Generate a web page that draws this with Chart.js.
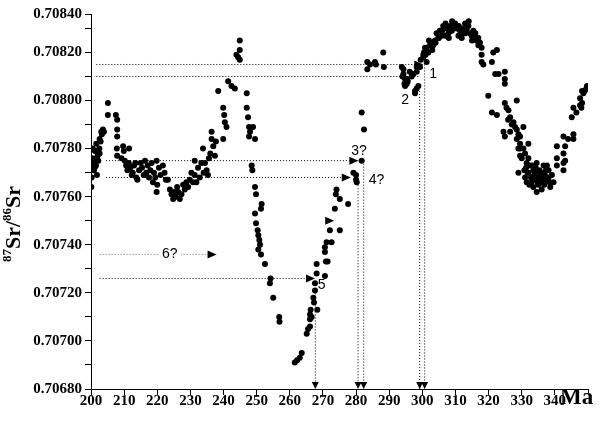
<!DOCTYPE html>
<html>
<head>
<meta charset="utf-8">
<script src="https://cdn.jsdelivr.net/npm/chart.js@4"></script>
<style>
  body { margin: 0; background: #fff; }
  canvas { display: block; }
</style>
</head>
<body>
<canvas id="chart" width="600" height="432"></canvas>
<script>
// axis ranges
const xMin = 200, xMax = 350;
const yMin = 0.7068, yMax = 0.70836; // top of the axis is labelled 0.70840 in the source

// samples as [age Ma, 87Sr/86Sr]
const triassic = [
  [200.1, 0.70764], [200.2, 0.70768], [200.3, 0.70773], [200.4, 0.70776], [200.5, 0.70780], [200.9, 0.70771],
  [201.0, 0.70775], [201.1, 0.70772], [201.2, 0.70779], [201.5, 0.70773], [201.6, 0.70782], [201.6, 0.70779],
  [201.8, 0.70769], [202.0, 0.70777], [202.2, 0.70775], [202.5, 0.70780], [202.6, 0.70784], [202.6, 0.70778],
  [202.9, 0.70783], [203.1, 0.70787], [203.3, 0.70786], [203.6, 0.70788], [203.9, 0.70787],
  [205.1, 0.70799], [205.1, 0.70794], [207.5, 0.70794], [207.9, 0.70792], [207.9, 0.70788], [207.9, 0.70785],
  [207.8, 0.70780], [207.9, 0.70777], [209.2, 0.70776], [209.7, 0.70781], [209.9, 0.70779], [211.5, 0.70780],
  [210.2, 0.70775], [210.6, 0.70773], [211.0, 0.70771], [211.4, 0.70774], [211.9, 0.70772], [212.3, 0.70769],
  [212.6, 0.70770], [213.0, 0.70773], [213.4, 0.70774], [213.7, 0.70768], [214.0, 0.70767], [214.5, 0.70771],
  [215.0, 0.70774], [215.4, 0.70772], [215.9, 0.70769], [216.3, 0.70775], [216.7, 0.70770], [217.1, 0.70773],
  [217.5, 0.70768], [217.9, 0.70771], [218.3, 0.70774], [218.7, 0.70766], [219.0, 0.70770], [219.4, 0.70768],
  [219.8, 0.70775], [219.8, 0.70762], [220.0, 0.70765], [220.5, 0.70772], [221.0, 0.70769], [221.7, 0.70773],
  [222.2, 0.70770], [222.6, 0.70767], [223.2, 0.70767], [223.8, 0.70763], [224.3, 0.70761], [224.8, 0.70759],
  [225.2, 0.70762], [225.6, 0.70760], [226.0, 0.70764], [226.3, 0.70762], [226.8, 0.70759], [227.3, 0.70761],
  [227.8, 0.70765], [228.3, 0.70763], [228.8, 0.70766], [229.3, 0.70764], [229.8, 0.70767], [230.3, 0.70770],
  [230.8, 0.70766], [231.3, 0.70769], [231.3, 0.70775], [231.8, 0.70766], [232.3, 0.70772], [232.8, 0.70768],
  [233.3, 0.70774], [233.8, 0.70780], [234.0, 0.70770], [234.4, 0.70774], [234.9, 0.70771], [235.3, 0.70769],
  [235.6, 0.70776], [236.0, 0.70778], [236.4, 0.70787], [236.4, 0.70784], [236.9, 0.70781], [237.4, 0.70777],
  [237.7, 0.70783]
];

const guadalupian = [
  [238.4, 0.70804], [239.9, 0.70797], [240.2, 0.70794], [240.4, 0.70791], [240.9, 0.70789], [239.9, 0.70784],
  [241.4, 0.70808], [242.4, 0.70806], [243.4, 0.70805], [243.9, 0.70819], [244.4, 0.70818], [244.9, 0.70821],
  [244.9, 0.70825], [244.9, 0.70817],
  [247.0, 0.70803], [247.0, 0.70797], [247.4, 0.70793], [247.7, 0.70789], [248.0, 0.70787], [248.9, 0.70789],
  [247.7, 0.70785], [249.5, 0.70784], [248.5, 0.70773], [248.7, 0.70771], [249.5, 0.70764], [249.8, 0.70761],
  [251.5, 0.70757], [251.3, 0.70755], [249.5, 0.70753], [249.8, 0.70749], [250.3, 0.70746], [250.5, 0.70744],
  [251.0, 0.70740], [250.5, 0.70738], [250.8, 0.70742], [251.3, 0.70736], [252.5, 0.70732], [254.2, 0.70726],
  [254.0, 0.70724], [255.0, 0.70718], [256.8, 0.70710], [256.9, 0.70708]
];

const permian = [
  [261.5, 0.70691], [262.2, 0.70692], [263.0, 0.70693], [263.6, 0.70695], [265.1, 0.70703], [265.5, 0.70705],
  [266.1, 0.70706], [266.1, 0.70709], [266.1, 0.70711], [266.3, 0.70713], [266.6, 0.70710], [268.3, 0.70713],
  [267.1, 0.70718], [267.6, 0.70721], [267.3, 0.70716], [267.6, 0.70724], [268.1, 0.70728], [268.1, 0.70732],
  [270.6, 0.70727], [270.9, 0.70733], [271.4, 0.70733], [270.6, 0.70737], [270.6, 0.70739], [271.1, 0.70741],
  [272.6, 0.70741], [272.1, 0.70746], [275.1, 0.70746], [273.6, 0.70755], [274.1, 0.70763], [273.9, 0.70761],
  [275.1, 0.70759], [277.6, 0.70757], [279.2, 0.70770], [280.0, 0.70767], [280.2, 0.70766], [280.0, 0.70769],
  [281.7, 0.70775], [281.7, 0.70795], [282.4, 0.70788],
  [283.4, 0.70816], [284.2, 0.70815], [283.4, 0.70813], [285.7, 0.70816], [286.0, 0.70815], [288.2, 0.70820],
  [288.4, 0.70814]
];

const carboniferous = [
  [293.8, 0.70814], [294.0, 0.70810], [294.3, 0.70811], [294.3, 0.70813], [294.6, 0.70807], [294.8, 0.70809],
  [294.8, 0.70806], [295.3, 0.70807], [295.3, 0.70809], [295.6, 0.70808], [296.2, 0.70812], [296.8, 0.70810],
  [297.3, 0.70811], [297.8, 0.70804], [297.8, 0.70803], [298.3, 0.70812], [298.3, 0.70814], [298.3, 0.70805],
  [298.8, 0.70806], [299.3, 0.70814], [299.5, 0.70817],
  [300.3, 0.70818], [300.3, 0.70819], [300.5, 0.70820], [300.8, 0.70822], [301.3, 0.70816], [301.3, 0.70822],
  [301.8, 0.70820], [302.3, 0.70823], [302.8, 0.70824], [303.3, 0.70823], [303.8, 0.70825], [304.3, 0.70828],
  [304.8, 0.70826], [305.3, 0.70829], [305.8, 0.70827], [306.3, 0.70831], [306.9, 0.70827], [307.4, 0.70830],
  [307.9, 0.70828], [308.4, 0.70831], [308.9, 0.70829], [309.4, 0.70831], [309.9, 0.70832], [310.4, 0.70830],
  [310.9, 0.70827], [311.4, 0.70829], [311.9, 0.70826], [312.4, 0.70828], [312.9, 0.70832], [313.4, 0.70830],
  [313.9, 0.70831], [314.4, 0.70828], [314.9, 0.70827], [315.4, 0.70829], [315.9, 0.70826], [316.4, 0.70825],
  [316.9, 0.70823], [317.4, 0.70824], [317.9, 0.70822], [317.9, 0.70819], [317.9, 0.70816], [318.4, 0.70815],
  [301.0, 0.70819], [302.0, 0.70825], [303.0, 0.70821], [304.0, 0.70824], [305.0, 0.70826], [306.0, 0.70829],
  [307.0, 0.70832], [308.0, 0.70826], [309.0, 0.70833], [311.0, 0.70831], [312.0, 0.70830], [313.0, 0.70828],
  [314.0, 0.70833], [315.0, 0.70825], [316.0, 0.70828], [316.9, 0.70826]
];

const mississippian = [
  [319.9, 0.70802], [321.0, 0.70795], [321.0, 0.70816], [321.4, 0.70820], [322.0, 0.70811], [322.5, 0.70794],
  [322.5, 0.70821], [323.0, 0.70811], [324.5, 0.70787], [324.9, 0.70812], [324.9, 0.70809], [324.9, 0.70807],
  [324.9, 0.70799], [324.9, 0.70785], [325.4, 0.70797], [325.9, 0.70792], [326.0, 0.70796], [326.5, 0.70793],
  [326.5, 0.70787], [327.0, 0.70790], [327.5, 0.70791], [328.0, 0.70789], [328.5, 0.70800], [328.5, 0.70788],
  [328.5, 0.70784], [329.0, 0.70786], [329.0, 0.70780], [329.0, 0.70770], [329.5, 0.70785], [329.5, 0.70782],
  [329.5, 0.70780], [329.5, 0.70777], [330.0, 0.70776], [330.5, 0.70789],
  [331.3, 0.70772], [331.5, 0.70774], [331.5, 0.70766], [332.0, 0.70782], [332.0, 0.70770], [332.5, 0.70773],
  [332.8, 0.70768], [333.0, 0.70768], [333.0, 0.70766], [333.5, 0.70771], [333.5, 0.70764], [334.0, 0.70770],
  [334.0, 0.70767], [334.5, 0.70774], [334.5, 0.70762], [335.0, 0.70768], [335.0, 0.70765], [335.5, 0.70766],
  [335.5, 0.70770], [336.0, 0.70763], [336.6, 0.70773], [336.6, 0.70767], [337.0, 0.70769], [337.6, 0.70773],
  [338.1, 0.70771], [338.1, 0.70768], [338.6, 0.70764], [339.1, 0.70769], [339.6, 0.70766],
  [330.8, 0.70771], [331.0, 0.70768], [331.8, 0.70770], [332.3, 0.70765], [333.8, 0.70769], [334.2, 0.70772],
  [334.8, 0.70766], [335.3, 0.70771], [335.8, 0.70768], [336.3, 0.70770], [336.8, 0.70765], [337.3, 0.70771],
  [337.8, 0.70767], [338.4, 0.70766], [333.2, 0.70773], [332.0, 0.70776], [331.0, 0.70778], [330.5, 0.70780],
  [340.6, 0.70781], [340.6, 0.70776], [340.6, 0.70773], [342.6, 0.70785], [343.1, 0.70781], [342.6, 0.70778],
  [343.1, 0.70775], [342.6, 0.70774], [342.6, 0.70771], [344.0, 0.70784], [345.6, 0.70784], [345.6, 0.70786],
  [345.1, 0.70793], [345.6, 0.70797], [346.5, 0.70795], [347.6, 0.70798], [348.0, 0.70797], [348.2, 0.70799],
  [347.6, 0.70801], [348.6, 0.70803], [349.0, 0.70804], [349.7, 0.70806], [348.2, 0.70804], [349.5, 0.70805]
];

// dotted guides: horizontal levels and the age where each one stops
const levelRatio = [0.70815, 0.70810, 0.70775, 0.70768, 0.70726, 0.70736];
const levelFrom = [201.6, 201.6, 204.5, 204.5, 202.6, 202.6];
const levelTo = [300.3, 299.2, 280.7, 278.4, 267.6, 237.9];

// vertical drops to the age axis
const dropAge = [300.7, 299.2, 282.3, 280.6, 267.7];
const dropTop = [0.70815, 0.70804, 0.70775, 0.70766, 0.70721];

// right-pointing arrow heads
const tipAge = [300.3, 280.7, 278.4, 267.6, 237.9, 273.4];
const tipRatio = [0.70815, 0.70775, 0.70768, 0.70726, 0.70736, 0.70750];

// numbered marks
const markText = ['1', '2', '3?', '4?', '5', '6?'];
const markAge = [303.3, 294.8, 280.9, 286.2, 269.6, 223.8];
const markRatio = [0.70811, 0.70800, 0.70779, 0.70767, 0.70723, 0.70736];

const points = [...triassic, ...guadalupian, ...permian, ...carboniferous, ...mississippian]
  .map(p => ({ x: p[0], y: p[1] }));

const datasets = [{
  data: points,
  pointRadius: 3,
  pointBackgroundColor: '#000',
  pointBorderWidth: 0,
  showLine: false
}];

levelRatio.forEach((v, i) => {
  datasets.push({
    type: 'line',
    data: [{ x: levelFrom[i], y: v }, { x: levelTo[i], y: v }],
    borderColor: i === 5 ? '#666' : '#000',
    borderWidth: 1,
    borderDash: [1, 2],
    pointRadius: 0,
    showLine: true
  });
});

dropAge.forEach((a, i) => {
  datasets.push({
    type: 'line',
    data: [{ x: a, y: dropTop[i] }, { x: a, y: yMin }],
    borderColor: '#000',
    borderWidth: 1,
    borderDash: [1, 2],
    pointRadius: 0,
    showLine: true
  });
});

const serif = '"Liberation Serif", "Times New Roman", serif';

const guides = {
  id: 'guides',
  afterDatasetsDraw(chart) {
    const { ctx, scales: { x, y } } = chart;
    ctx.save();
    ctx.fillStyle = '#000';
    tipAge.forEach((a, i) => {
      const px = x.getPixelForValue(a), py = y.getPixelForValue(tipRatio[i]);
      ctx.beginPath();
      ctx.moveTo(px, py);
      ctx.lineTo(px - 9, py - 4);
      ctx.lineTo(px - 9, py + 4);
      ctx.closePath();
      ctx.fill();
    });
    dropAge.forEach(a => {
      const px = x.getPixelForValue(a), py = y.getPixelForValue(yMin);
      ctx.beginPath();
      ctx.moveTo(px, py);
      ctx.lineTo(px - 3.5, py - 7);
      ctx.lineTo(px + 3.5, py - 7);
      ctx.closePath();
      ctx.fill();
    });
    ctx.font = '14px "Liberation Sans", Arial, sans-serif';
    ctx.textAlign = 'center';
    ctx.textBaseline = 'middle';
    markText.forEach((t, i) => {
      const px = x.getPixelForValue(markAge[i]), py = y.getPixelForValue(markRatio[i]);
      if (t === '6?') {
        ctx.fillStyle = '#fff';
        ctx.fillRect(px - 11, py - 7, 22, 14);
      }
      ctx.fillStyle = '#000';
      ctx.fillText(t, px, py);
    });
    ctx.restore();
  },
  afterDraw(chart) {
    const { ctx, chartArea, scales: { x } } = chart;
    ctx.save();
    ctx.fillStyle = '#000';
    // x unit
    ctx.font = 'bold 23px ' + serif;
    ctx.textAlign = 'left';
    ctx.textBaseline = 'alphabetic';
    ctx.fillText('Ma', x.getPixelForValue(xMax) - 28, chartArea.bottom + 15);
    // y title with superscript mass numbers
    ctx.translate(20, chartArea.top + 248);
    ctx.rotate(-Math.PI / 2);
    const parts = [['87', 13, -9], ['Sr/', 22, 0], ['86', 13, -9], ['Sr', 22, 0]];
    let cx = 0;
    parts.forEach(([t, size, dy]) => {
      ctx.font = 'bold ' + size + 'px ' + serif;
      ctx.fillText(t, cx, dy);
      cx += ctx.measureText(t).width;
    });
    ctx.restore();
  }
};

new Chart(document.getElementById('chart'), {
  type: 'scatter',
  data: { datasets },
  options: {
    responsive: false,
    animation: false,
    devicePixelRatio: 1,
    layout: { padding: { top: 14, right: 12, left: 0, bottom: 0 } },
    plugins: { legend: { display: false }, tooltip: { enabled: false } },
    scales: {
      x: {
        type: 'linear',
        min: xMin,
        max: xMax,
        afterFit: s => { s.height = 43; },
        border: { color: '#000', width: 1 },
        grid: { drawOnChartArea: false, color: '#000', tickLength: 6 },
        ticks: {
          stepSize: 10,
          autoSkip: false,
          maxRotation: 0,
          padding: -3,
          color: '#000',
          font: { family: serif, size: 15, weight: 'bold' },
          callback: v => (v === xMax ? '' : v)
        }
      },
      y: {
        min: yMin,
        max: yMax,
        afterFit: s => { s.width = 91; },
        afterBuildTicks: s => { s.ticks.push({ value: s.max }); },
        border: { color: '#000', width: 1 },
        grid: { drawOnChartArea: false, color: '#000', tickLength: 6 },
        ticks: {
          stepSize: 0.0001,
          includeBounds: false,
          padding: 3,
          color: '#000',
          font: { family: serif, size: 15, weight: 'bold' },
          callback: v => {
            if (v === yMax) return '0.70840';
            return Math.round(v * 10000) % 2 === 0 ? v.toFixed(5) : '';
          }
        }
      }
    }
  },
  plugins: [guides]
});
</script>
</body>
</html>
